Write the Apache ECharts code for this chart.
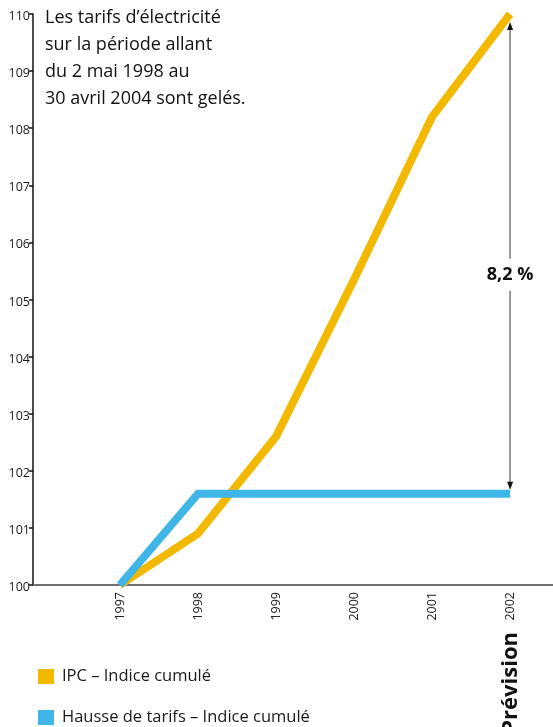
<!DOCTYPE html>
<html>
<head>
<meta charset="utf-8">
<script src="https://cdn.jsdelivr.net/npm/echarts@6/dist/echarts.min.js"></script>
<style>
html,body{margin:0;padding:0;background:#fff;}
#chart{width:553px;height:727px;}
</style>
</head>
<body>
<div id="chart"></div>
<script>
const years = [1997, 1998, 1999, 2000, 2001, 2002];
const ipcValues = [100, 100.9, 102.6, 105.35, 108.2, 110.0];
const tarifValues = [100, 101.6, 101.6, 101.6, 101.6, 101.6];
const yTicks = [100, 101, 102, 103, 104, 105, 106, 107, 108, 109, 110];
const seriesNames = ['IPC – Indice cumulé', 'Hausse de tarifs – Indice cumulé'];
const titleLines = ['Les tarifs d’électricité', 'sur la période allant', 'du 2 mai 1998 au', '30 avril 2004 sont gelés.'];
const gapLabel = '8,2 %';
const forecastLabel = 'Prévision';

const FONT = '"Open Sans", "Noto Sans", sans-serif';
const ORANGE = '#F3B800';
const BLUE = '#40B6E8';

const chart = echarts.init(document.getElementById('chart'));

const option = {
  backgroundColor: '#fff',
  animation: false,
  grid: { left: 33, right: 0, top: 14, bottom: 142 },
  xAxis: {
    type: 'value',
    min: 1995.885,
    max: 2002.55,
    axisLine: { show: true, lineStyle: { color: '#707070', width: 2 } },
    axisTick: { show: false },
    splitLine: { show: false },
    axisLabel: {
      customValues: years,
      rotate: 90,
      margin: 7,
      fontSize: 12.5,
      color: '#222',
      fontFamily: FONT,
      formatter: v => String(v)
    }
  },
  yAxis: {
    type: 'value',
    min: 100,
    max: 110,
    interval: 1,
    axisLine: { show: true, lineStyle: { color: '#111', width: 1.5 } },
    axisTick: { show: true, length: 4, lineStyle: { color: '#111', width: 1.5 } },
    splitLine: { show: false },
    axisLabel: {
      fontSize: 12.5,
      color: '#1a1a1a',
      margin: 3,
      fontFamily: FONT,
      verticalAlign: 'top',
      padding: [-4, 0, 0, 0],
      formatter: v => yTicks.includes(v) ? String(v) : ''
    }
  },
  legend: {
    orient: 'vertical',
    left: 33,
    top: 663,
    height: 62,
    itemWidth: 16,
    itemHeight: 15,
    itemGap: 24,
    icon: 'rect',
    textStyle: { fontSize: 16.5, lineHeight: 17, color: '#1a1a1a', fontFamily: FONT, padding: [0, 0, 0, 3] },
    data: seriesNames
  },
  series: [
    {
      name: seriesNames[0],
      type: 'line',
      data: years.map((y, i) => [y, ipcValues[i]]),
      showSymbol: false,
      symbol: 'none',
      color: ORANGE,
      lineStyle: { color: ORANGE, width: 8, cap: 'butt', join: 'miter' },
      z: 2
    },
    {
      name: seriesNames[1],
      type: 'line',
      data: years.map((y, i) => [y, tarifValues[i]]),
      showSymbol: false,
      symbol: 'none',
      color: BLUE,
      lineStyle: { color: BLUE, width: 8, cap: 'butt', join: 'miter' },
      z: 3
    }
  ]
};

chart.setOption(option);

// Annotation arrow between the two series at the last year
const last = years.length - 1;
const pTop = chart.convertToPixel({ gridIndex: 0 }, [years[last], ipcValues[last]]);
const pBot = chart.convertToPixel({ gridIndex: 0 }, [years[last], tarifValues[last]]);
const ax = pTop[0];
const yTop = pTop[1] + 8;
const yBot = pBot[1] - 4;
const yMid = (yTop + yBot) / 2 + 19;

const graphics = [];
titleLines.forEach((t, i) => {
  graphics.push({
    type: 'text', left: 45, top: 9 + i * 27, z: 10,
    style: { text: t, fontSize: 18, fill: '#111', fontFamily: FONT }
  });
});
graphics.push(
  { type: 'line', z: 5, shape: { x1: ax, y1: yTop + 6, x2: ax, y2: yMid - 16 }, style: { stroke: '#777', lineWidth: 1.5 } },
  { type: 'line', z: 5, shape: { x1: ax, y1: yMid + 16, x2: ax, y2: yBot - 6 }, style: { stroke: '#777', lineWidth: 1.5 } },
  { type: 'polygon', z: 6, shape: { points: [[ax, yTop], [ax - 3, yTop + 8], [ax + 3, yTop + 8]] }, style: { fill: '#111' } },
  { type: 'polygon', z: 6, shape: { points: [[ax, yBot], [ax - 3, yBot - 8], [ax + 3, yBot - 8]] }, style: { fill: '#111' } },
  {
    type: 'text', z: 6, x: ax, y: yMid,
    style: { text: gapLabel, fontSize: 18, fontWeight: 'bold', fill: '#111', fontFamily: FONT, align: 'center', verticalAlign: 'middle' }
  },
  {
    type: 'text', z: 6, x: ax + 1, y: 632, rotation: Math.PI / 2,
    style: { text: forecastLabel, fontSize: 22, fontWeight: 'bold', fill: '#111', fontFamily: FONT, align: 'right', verticalAlign: 'middle' }
  }
);
chart.setOption({ graphic: graphics });
</script>
</body>
</html>
